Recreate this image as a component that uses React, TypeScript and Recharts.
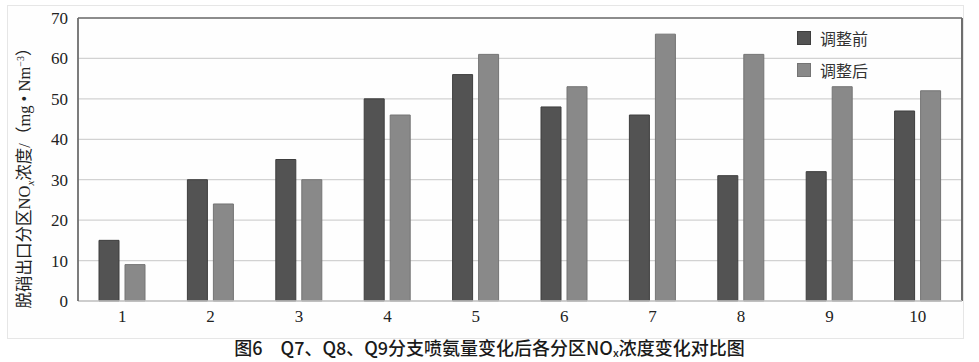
import React from 'react';
import { BarChart, Bar, XAxis, YAxis, CartesianGrid, ReferenceLine } from 'recharts';

const categories = ['1', '2', '3', '4', '5', '6', '7', '8', '9', '10'];
const beforeValues = [15, 30, 35, 50, 56, 48, 46, 31, 32, 47];
const afterValues = [9, 24, 30, 46, 61, 53, 66, 61, 53, 52];
const yTicks = [0, 10, 20, 30, 40, 50, 60, 70];
const seriesNames = ['调整前', '调整后'];
const seriesColors = ['#535353', '#898989'];
const seriesStrokes = ['#3e3e3e', '#747474'];

const data = categories.map((c, i) => ({ name: c, before: beforeValues[i], after: afterValues[i] }));

const serif = '"Liberation Serif", "Times New Roman", "Noto Sans CJK SC", serif';
const sans = '"Noto Sans CJK SC", "Noto Sans", sans-serif';

const LegendBox = () => (
  <div style={{ position: 'absolute', left: 797, top: 22, fontFamily: sans, fontSize: 16, color: '#333' }}>
    {seriesNames.map((n, i) => (
      <div key={n} style={{ display: 'flex', alignItems: 'center', height: 32 }}>
        <span
          style={{
            display: 'inline-block',
            width: 14,
            height: 14,
            background: seriesColors[i],
            border: `1px solid ${seriesStrokes[i]}`,
            boxSizing: 'border-box',
            marginRight: 9,
          }}
        />
        <span>{n}</span>
      </div>
    ))}
  </div>
);

const rightEdge = (props: any) => {
  const o = props.offset;
  return [o.left + o.width];
};

export default function App() {
  return (
    <div style={{ position: 'absolute', left: 0, top: 0, width: 979, height: 362, background: '#fff', overflow: 'hidden' }}>
      <div
        style={{
          position: 'absolute',
          left: 7,
          top: 5,
          width: 957,
          height: 334,
          border: '1px solid #e6e6e6',
          boxSizing: 'border-box',
          background: '#fefefe',
        }}
      />
      <div style={{ position: 'absolute', left: 0, top: 0 }}>
        <BarChart
          width={979}
          height={362}
          data={data}
          margin={{ top: 18, right: 17, left: 0, bottom: 31 }}
          barSize={20}
          barGap={6}
        >
          <CartesianGrid vertical={false} stroke="#d2d2d2" strokeWidth={1.2} />
          <CartesianGrid
            horizontal={false}
            vertical
            verticalCoordinatesGenerator={rightEdge}
            stroke="#6e6e6e"
            strokeWidth={2}
          />
          <ReferenceLine y={70} stroke="#6e6e6e" strokeWidth={1.5} />
          <XAxis
            dataKey="name"
            height={30}
            tickLine={false}
            tickSize={0}
            tickMargin={9}
            axisLine={{ stroke: '#c4c4c4', strokeWidth: 1.5 }}
            tick={{ fontFamily: serif, fontSize: 17, fill: '#222' }}
            interval={0}
          />
          <YAxis
            width={78}
            domain={[0, 70]}
            ticks={yTicks}
            tickLine={false}
            tickSize={0}
            tickMargin={10}
            axisLine={{ stroke: '#6e6e6e', strokeWidth: 1.8 }}
            tick={{ fontFamily: serif, fontSize: 17, fill: '#222' }}
          />
          <Bar dataKey="before" name={seriesNames[0]} fill={seriesColors[0]} stroke={seriesStrokes[0]} strokeWidth={1} isAnimationActive={false} />
          <Bar dataKey="after" name={seriesNames[1]} fill={seriesColors[1]} stroke={seriesStrokes[1]} strokeWidth={1} isAnimationActive={false} />
        </BarChart>
      </div>
      <LegendBox />
      <svg style={{ position: 'absolute', left: 0, top: 0, pointerEvents: 'none' }} width={979} height={362}>
        <text
          transform="translate(30, 174) rotate(-90)"
          textAnchor="middle"
          fontFamily={serif}
          fontSize={16.5}
          fill="#222"
        >
          <tspan>脱硝出口分区NO</tspan>
          <tspan fontStyle="italic" fontSize={11} dy={4}>x</tspan>
          <tspan dy={-4}>浓度/（mg • Nm</tspan>
          <tspan fontSize={10} dy={-6}>−3</tspan>
          <tspan dy={6}>）</tspan>
        </text>
      </svg>
      <div
        style={{
          position: 'absolute',
          left: 0,
          top: 337,
          width: 979,
          textAlign: 'center',
          fontFamily: sans,
          fontSize: 18,
          fontWeight: 500,
          color: '#1a1a1a',
          lineHeight: '20px',
          whiteSpace: 'nowrap',
        }}
      >
        图6　Q7、Q8、Q9分支喷氨量变化后各分区NO<span style={{ fontSize: 11, position: 'relative', top: 2 }}>x</span>浓度变化对比图
      </div>
    </div>
  );
}
